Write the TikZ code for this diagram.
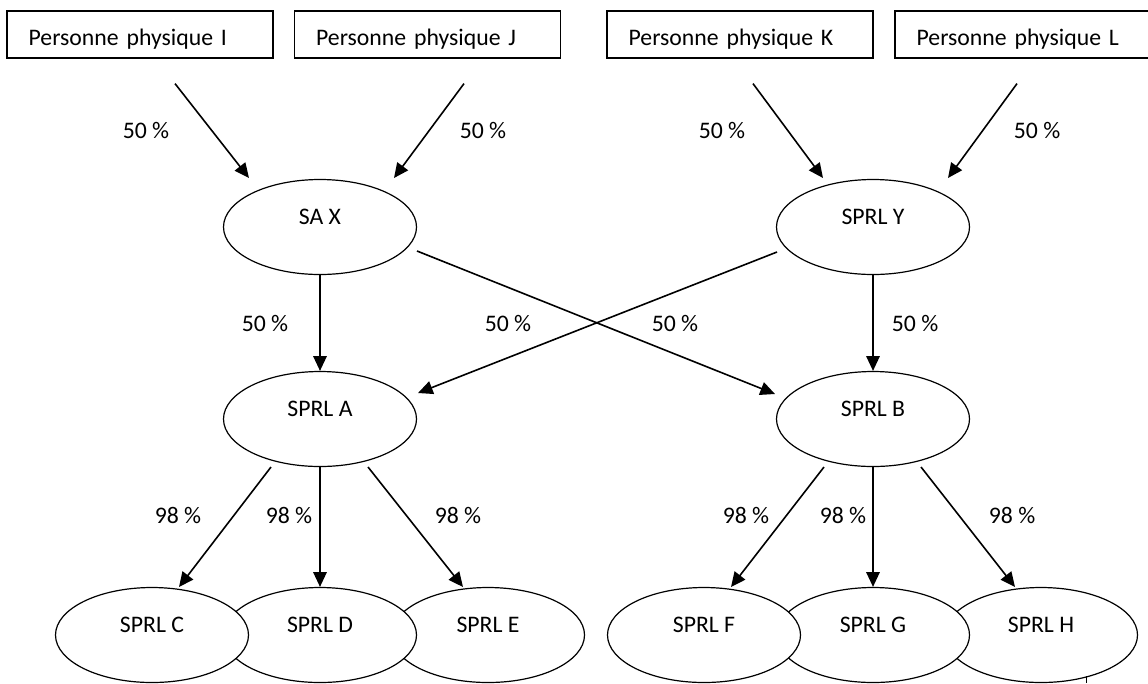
\documentclass[tikz,border=0pt]{standalone}
\usepackage{fontspec}
\setmainfont{Carlito}
\usetikzlibrary{shapes.geometric,arrows.meta,calc}

\tikzset{
  personne/.style={draw, rectangle, line width=0.9pt, minimum height=35.25pt,
    text width=167pt, inner xsep=16.25pt, align=left,
    text height=16.6pt, text depth=0pt},
  societe/.style={draw, ellipse, fill=white, line width=0.9pt,
    minimum width=144.75pt, minimum height=71.25pt,
    text height=0pt, text depth=4.4pt},
  fleche/.style={line width=1.2pt, -{Triangle[length=11pt,width=10pt]}}
}

\begin{document}
\begin{tikzpicture}[x=0.75pt, y=-0.75pt, font=\fontsize{17.8}{21}\selectfont]
   \useasboundingbox (0,0) rectangle (1148,683);

   % personnes physiques
   \node[personne] (I) at (140,34.5) {Personne physique I};
   \node[personne] (J) at (427.5,34.5) {Personne physique J};
   \node[personne] (K) at (740,34.5) {Personne physique K};
   \node[personne] (L) at (1028,34.5) {Personne physique L};

   % societes
   \node[societe] (X) at (320,227) {SA X};
   \node[societe] (Y) at (873,227) {SPRL Y};
   \node[societe] (A) at (320,419) {SPRL A};
   \node[societe] (B) at (873,419) {SPRL B};

   \node[societe] (E) at (488,635) {SPRL E};
   \node[societe] (D) at (320,635) {SPRL D};
   \node[societe] (C) at (152,635) {SPRL C};
   \node[societe] (H) at (1041,635) {SPRL H};
   \node[societe] (G) at (873,635) {SPRL G};
   \node[societe] (F) at (704,635) {SPRL F};

   % participations
   \draw[fleche] ($(I.south)+(35,25)$) -- ($(X.center)+(-71,-49)$);
   \draw[fleche] ($(J.south)+(36.5,25)$) -- ($(X.center)+(74,-49)$);
   \draw[fleche] ($(K.south)+(13,25)$) -- ($(Y.center)+(-50,-49)$);
   \draw[fleche] ($(L.south)+(-11,25)$) -- ($(Y.center)+(75,-49)$);

   \draw[fleche] (X.south) -- (A.north);
   \draw[fleche] (Y.south) -- (B.north);
   \draw[fleche] ($(X.center)+(97,24)$) -- ($(B.center)+(-98,-25)$);
   \draw[fleche] ($(Y.center)+(-96,25)$) -- ($(A.center)+(98,-26)$);

   \draw[fleche] ($(A.center)+(-49,48)$) -- ($(C.center)+(27,-48)$);
   \draw[fleche] (A.south) -- (D.north);
   \draw[fleche] ($(A.center)+(48,48)$) -- ($(E.center)+(-25,-48)$);
   \draw[fleche] ($(B.center)+(-49,48)$) -- ($(F.center)+(27,-48)$);
   \draw[fleche] (B.south) -- (G.north);
   \draw[fleche] ($(B.center)+(48,48)$) -- ($(H.center)+(-26,-48)$);

   % pourcentages
   \node (pI) at (146,130) {50 \%};
   \node (pJ) at (483,130) {50 \%};
   \node (pK) at (722,130) {50 \%};
   \node (pL) at (1037,130) {50 \%};
   \node (pXA) at (265,323) {50 \%};
   \node (pYA) at (508,323) {50 \%};
   \node (pXB) at (675,323) {50 \%};
   \node (pYB) at (915,323) {50 \%};
   \node (pC) at (178,515) {98 \%};
   \node (pD) at (289,515) {98 \%};
   \node (pE) at (458,515) {98 \%};
   \node (pF) at (746,515) {98 \%};
   \node (pG) at (843,515) {98 \%};
   \node (pH) at (1012,515) {98 \%};

   \draw[line width=0.6pt] (1086,676) -- (1086,683);

\end{tikzpicture}
\end{document}
